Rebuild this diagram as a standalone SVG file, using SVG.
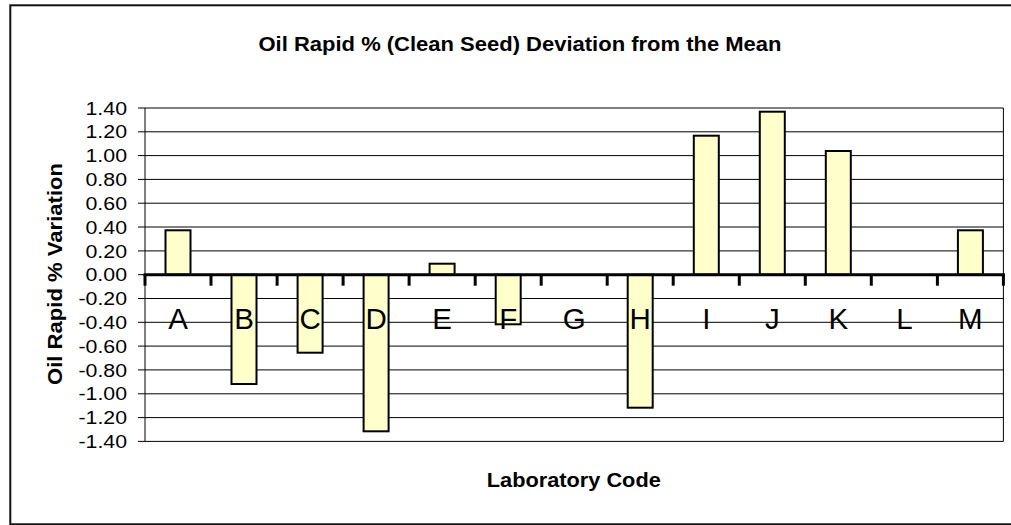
<svg xmlns="http://www.w3.org/2000/svg" width="1011" height="525" viewBox="0 0 1011 525">
<style>
.t{font-family:"Liberation Sans",Arial,sans-serif;fill:#000}
.b{font-weight:bold}
.tick{font-size:19px;text-anchor:end}
.cat{font-size:29.5px;text-anchor:middle}
.grid{stroke:#000;stroke-width:1}
.bar{fill:#FFFFCC;stroke:#000;stroke-width:2}
.xt{stroke:#000;stroke-width:3}
</style>
<rect x="10.3" y="5.3" width="1010" height="519" fill="#fff" stroke="#111" stroke-width="2"/>
<text class="t b" x="520" y="50.5" font-size="21" text-anchor="middle" textLength="523" lengthAdjust="spacingAndGlyphs">Oil Rapid % (Clean Seed) Deviation from the Mean</text>
<g id="gridlines">
<line class="grid" x1="138" y1="108" x2="1003.4" y2="108"/>
<line class="grid" x1="138" y1="131.8" x2="1003.4" y2="131.8"/>
<line class="grid" x1="138" y1="155.6" x2="1003.4" y2="155.6"/>
<line class="grid" x1="138" y1="179.4" x2="1003.4" y2="179.4"/>
<line class="grid" x1="138" y1="203.2" x2="1003.4" y2="203.2"/>
<line class="grid" x1="138" y1="227" x2="1003.4" y2="227"/>
<line class="grid" x1="138" y1="250.9" x2="1003.4" y2="250.9"/>
<line class="grid" x1="138" y1="274.7" x2="1003.4" y2="274.7"/>
<line class="grid" x1="138" y1="298.5" x2="1003.4" y2="298.5"/>
<line class="grid" x1="138" y1="322.3" x2="1003.4" y2="322.3"/>
<line class="grid" x1="138" y1="346.1" x2="1003.4" y2="346.1"/>
<line class="grid" x1="138" y1="369.9" x2="1003.4" y2="369.9"/>
<line class="grid" x1="138" y1="393.8" x2="1003.4" y2="393.8"/>
<line class="grid" x1="138" y1="417.6" x2="1003.4" y2="417.6"/>
<line class="grid" x1="138" y1="441.4" x2="1003.4" y2="441.4"/>
<line class="grid" x1="145" y1="108" x2="145" y2="441.4"/>
<line class="grid" x1="1003.4" y1="108" x2="1003.4" y2="441.4"/>
</g>
<g id="ytick-labels" class="t tick">
<text x="127" y="114.6" textLength="41.5" lengthAdjust="spacingAndGlyphs">1.40</text>
<text x="127" y="138.4" textLength="41.5" lengthAdjust="spacingAndGlyphs">1.20</text>
<text x="127" y="162.2" textLength="41.5" lengthAdjust="spacingAndGlyphs">1.00</text>
<text x="127" y="186" textLength="41.5" lengthAdjust="spacingAndGlyphs">0.80</text>
<text x="127" y="209.8" textLength="41.5" lengthAdjust="spacingAndGlyphs">0.60</text>
<text x="127" y="233.6" textLength="41.5" lengthAdjust="spacingAndGlyphs">0.40</text>
<text x="127" y="257.5" textLength="41.5" lengthAdjust="spacingAndGlyphs">0.20</text>
<text x="127" y="281.3" textLength="41.5" lengthAdjust="spacingAndGlyphs">0.00</text>
<text x="127" y="305.1" textLength="48.5" lengthAdjust="spacingAndGlyphs">-0.20</text>
<text x="127" y="328.9" textLength="48.5" lengthAdjust="spacingAndGlyphs">-0.40</text>
<text x="127" y="352.7" textLength="48.5" lengthAdjust="spacingAndGlyphs">-0.60</text>
<text x="127" y="376.5" textLength="48.5" lengthAdjust="spacingAndGlyphs">-0.80</text>
<text x="127" y="400.4" textLength="48.5" lengthAdjust="spacingAndGlyphs">-1.00</text>
<text x="127" y="424.2" textLength="48.5" lengthAdjust="spacingAndGlyphs">-1.20</text>
<text x="127" y="448" textLength="48.5" lengthAdjust="spacingAndGlyphs">-1.40</text>
</g>
<g id="bars">
<rect id="bar-A" class="bar" x="165.5" y="230.3" width="25" height="44.4"/>
<rect id="bar-B" class="bar" x="231.5" y="274.7" width="25" height="109.3"/>
<rect id="bar-C" class="bar" x="297.6" y="274.7" width="25" height="78"/>
<rect id="bar-D" class="bar" x="363.6" y="274.7" width="25" height="156.6"/>
<rect id="bar-E" class="bar" x="429.6" y="263.7" width="25" height="11"/>
<rect id="bar-F" class="bar" x="495.7" y="274.7" width="25" height="49.6"/>
<rect id="bar-H" class="bar" x="627.7" y="274.7" width="25" height="133"/>
<rect id="bar-I" class="bar" x="693.8" y="135.7" width="25" height="139"/>
<rect id="bar-J" class="bar" x="759.8" y="111.7" width="25" height="163"/>
<rect id="bar-K" class="bar" x="825.8" y="151" width="25" height="123.7"/>
<rect id="bar-M" class="bar" x="957.9" y="230.3" width="25" height="44.4"/>
</g>
<g id="x-axis">
<line class="xt" x1="143.5" y1="274.7" x2="1004.9" y2="274.7"/>
<line class="xt" x1="145" y1="274.7" x2="145" y2="285.7"/>
<line class="xt" x1="211" y1="274.7" x2="211" y2="285.7"/>
<line class="xt" x1="277.1" y1="274.7" x2="277.1" y2="285.7"/>
<line class="xt" x1="343.1" y1="274.7" x2="343.1" y2="285.7"/>
<line class="xt" x1="409.1" y1="274.7" x2="409.1" y2="285.7"/>
<line class="xt" x1="475.2" y1="274.7" x2="475.2" y2="285.7"/>
<line class="xt" x1="541.2" y1="274.7" x2="541.2" y2="285.7"/>
<line class="xt" x1="607.2" y1="274.7" x2="607.2" y2="285.7"/>
<line class="xt" x1="673.2" y1="274.7" x2="673.2" y2="285.7"/>
<line class="xt" x1="739.3" y1="274.7" x2="739.3" y2="285.7"/>
<line class="xt" x1="805.3" y1="274.7" x2="805.3" y2="285.7"/>
<line class="xt" x1="871.3" y1="274.7" x2="871.3" y2="285.7"/>
<line class="xt" x1="937.4" y1="274.7" x2="937.4" y2="285.7"/>
<line class="xt" x1="1003.4" y1="274.7" x2="1003.4" y2="285.7"/>
</g>
<g id="category-labels" class="t cat">
<text x="178" y="329">A</text>
<text x="244" y="329">B</text>
<text x="310.1" y="329">C</text>
<text x="376.1" y="329">D</text>
<text x="442.1" y="329">E</text>
<text x="508.2" y="329">F</text>
<text x="574.2" y="329">G</text>
<text x="640.2" y="329">H</text>
<text x="706.3" y="329">I</text>
<text x="772.3" y="329">J</text>
<text x="838.3" y="329">K</text>
<text x="904.4" y="329">L</text>
<text x="970.4" y="329">M</text>
</g>
<text class="t b" x="573.8" y="486.5" font-size="20.5" text-anchor="middle" textLength="174" lengthAdjust="spacingAndGlyphs">Laboratory Code</text>
<text class="t b" transform="translate(61.5,274) rotate(-90)" font-size="21" text-anchor="middle" textLength="222" lengthAdjust="spacingAndGlyphs">Oil Rapid % Variation</text>
</svg>
